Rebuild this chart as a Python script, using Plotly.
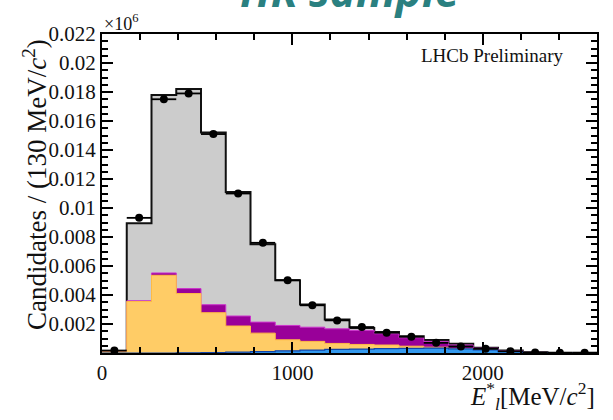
import numpy as np
import plotly.graph_objects as go

# ---- data (candidates per 130 MeV/c^2 bin, in units of 10^6) ----
bin_edges = [0, 130, 260, 390, 520, 650, 780, 910, 1040, 1170, 1300, 1430,
             1560, 1690, 1820, 1950, 2080, 2210, 2340, 2470, 2600]
data_vals = [0.00017, 0.00932, 0.0175, 0.0179, 0.0151, 0.0110, 0.0076, 0.00502,
             0.00329, 0.00225, 0.00179, 0.0014, 0.00112, 0.0007, 0.00045,
             0.00029, 0.00012, 0.00003, 0.00001, 0.00001]
blue_vals = [0, 0, 0, 0.00001, 0.00003, 0.00006, 0.0001, 0.00015, 0.0002, 0.00025,
             0.00027, 0.0003, 0.00032, 0.00034, 0.00029, 0.00022, 0.0001,
             0.00003, 0.00001, 0]
yellow_vals = [0.00008, 0.00355, 0.00536, 0.00409, 0.00275, 0.0018, 0.00127,
               0.00076, 0.0006, 0.00041, 0.00032, 0.00025, 0.00015, 0.00006,
               0.00002, 0.00001, 0.00001, 0, 0, 0]
purple_vals = [0.00004, 0.00005, 0.00016, 0.00034, 0.00055, 0.00069, 0.00076,
               0.00099, 0.00098, 0.00101, 0.00097, 0.00078, 0.00058, 0.0004,
               0.00024, 0.0001, 0.00004, 0.00001, 0, 0]
gray_vals = [0.00002, 0.00535, 0.01228, 0.01376, 0.01187, 0.00855, 0.00537,
             0.00312, 0.00156, 0.00064, 0.00016, 0.00011, 0.00011, 0.0001,
             0.00009, 0.00004, 0.00002, 0.00001, 0.00001, 0.00001]
y_tick_vals = [0.002, 0.004, 0.006, 0.008, 0.01, 0.012, 0.014, 0.016, 0.018, 0.02, 0.022]
y_tick_text = ["0.002", "0.004", "0.006", "0.008", "0.01", "0.012", "0.014",
               "0.016", "0.018", "0.02", "0.022"]
x_tick_vals = [0, 1000, 2000]
x_tick_text = ["0", "1000", "2000"]

edges = np.array(bin_edges, dtype=float)
centers = 0.5 * (edges[:-1] + edges[1:])
half_w = 0.5 * (edges[1] - edges[0])

c_blue = np.array(blue_vals)
c_yellow = c_blue + np.array(yellow_vals)
c_purple = c_yellow + np.array(purple_vals)
c_gray = c_purple + np.array(gray_vals)

def step(y):
    return list(y) + [y[-1]]

SERIF = "Liberation Serif"
fig = go.Figure()
layers = [
    (c_gray, "#cccccc", "#111111", 2),
    (c_purple, "#990099", "#cc33cc", 1),
    (c_yellow, "#ffcc66", "#ffbb44", 1),
    (c_blue, "#3399ee", "#1144aa", 1.2),
]
for cum, fillc, linec, lw in layers:
    fig.add_trace(go.Scatter(
        x=list(edges), y=step(cum), mode="lines", line_shape="hv",
        fill="tozeroy", fillcolor=fillc,
        line=dict(color=linec, width=lw), showlegend=False, hoverinfo="skip"))

fig.add_trace(go.Scatter(
    x=list(centers), y=data_vals, mode="markers",
    marker=dict(color="black", size=8),
    error_x=dict(type="constant", value=half_w, color="black", thickness=1.8, width=0),
    showlegend=False))

PT = 34
PH = 420 - 67 - PT
fig.update_layout(
    width=613, height=420,
    margin=dict(l=102, r=16, t=PT, b=67),
    paper_bgcolor="white", plot_bgcolor="white",
    font=dict(family=SERIF, color="#111111"),
)
fig.update_xaxes(
    range=[0, 2600], tickvals=x_tick_vals, ticktext=x_tick_text, automargin=False,
    ticks="inside", ticklen=11, tickwidth=1.5, tickcolor="black",
    minor=dict(dtick=200, ticks="inside", ticklen=6, tickwidth=1.5, tickcolor="black"),
    showline=True, linecolor="black", linewidth=2, mirror="ticks",
    showgrid=False, zeroline=False, tickfont=dict(family=SERIF, size=21, color="#111111"),
)
fig.update_yaxes(
    range=[0, 0.022], tickvals=y_tick_vals, ticktext=y_tick_text, automargin=False,
    ticks="inside", ticklen=11, tickwidth=1.5, tickcolor="black",
    minor=dict(dtick=0.0005, tick0=0, ticks="inside", ticklen=6, tickwidth=1.5, tickcolor="black"),
    showline=True, linecolor="black", linewidth=2, mirror="ticks",
    showgrid=False, zeroline=False, tickfont=dict(family=SERIF, size=21, color="#111111"),
)

fig.add_annotation(text="Candidates / (130 MeV/<i>c</i><sup>2</sup>)",
                   xref="paper", yref="paper", x=(35 - 102) / 495,
                   y=1 - (185 - PT) / PH, textangle=-90,
                   showarrow=False, xanchor="center", yanchor="middle",
                   font=dict(family=SERIF, size=27, color="#111111"))
fig.add_annotation(text="<i>E</i><sup>*</sup><sub><i>l</i></sub>[MeV/<i>c</i><sup>2</sup>]",
                   xref="paper", yref="paper", x=1.0, y=-(396 - 353) / PH,
                   showarrow=False, xanchor="right", yanchor="middle",
                   font=dict(family=SERIF, size=25, color="#111111"))
fig.add_annotation(text="LHCb Preliminary", xref="paper", yref="paper",
                   x=(565 - 102) / 495, y=1 - (55 - PT) / PH,
                   showarrow=False, xanchor="right", yanchor="middle",
                   font=dict(family=SERIF, size=19, color="#111111"))
fig.add_annotation(text="×10<sup>6</sup>", xref="paper", yref="paper",
                   x=0.0, y=1 + (PT - 22) / PH, showarrow=False,
                   xanchor="left", yanchor="middle",
                   font=dict(family=SERIF, size=18, color="#111111"))
fig.add_annotation(text="<b><i>HR sample</i></b>", xref="paper", yref="paper",
                   x=(350 - 102) / 495, y=1 + (PT + 10) / PH,
                   showarrow=False, xanchor="center", yanchor="middle",
                   font=dict(family="Open Sans", size=44, color="#2a8080"))

fig.write_html("out.html", config={"displayModeBar": False},
               post_script="document.body.style.margin='0px';")
